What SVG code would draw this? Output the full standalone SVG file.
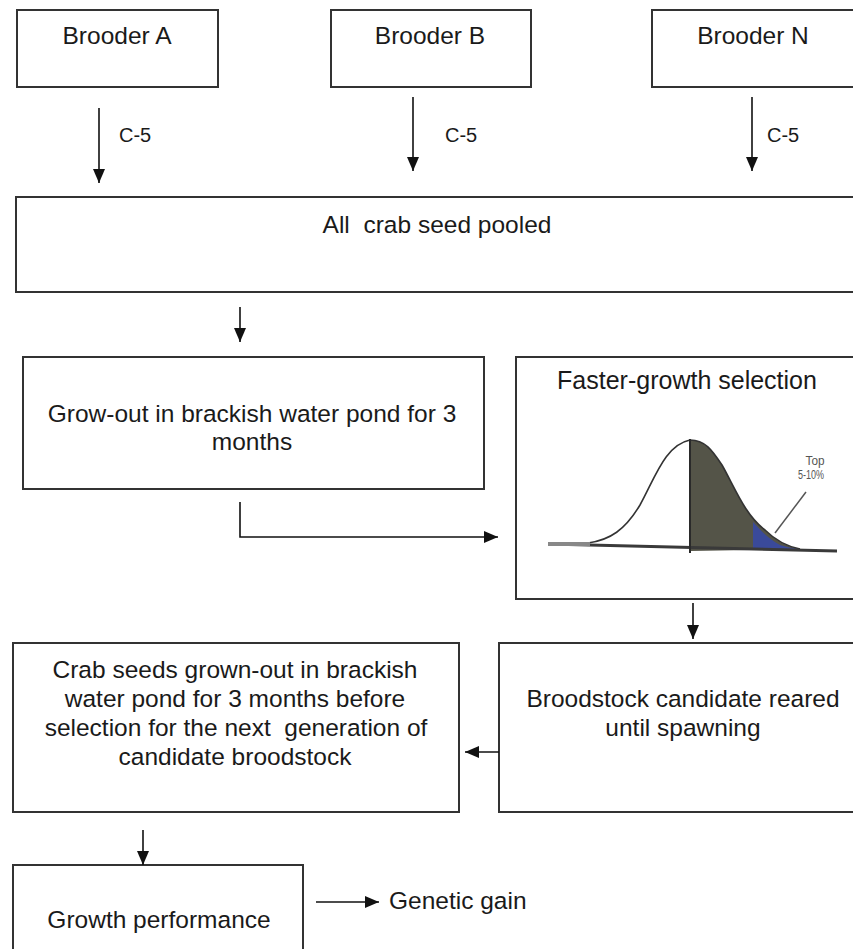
<svg xmlns="http://www.w3.org/2000/svg" width="853" height="949" viewBox="0 0 853 949">
<defs>
<style>
.box{fill:#fff;stroke:#333;stroke-width:2}
.t{font-family:"Liberation Sans",Arial,sans-serif;font-size:24.5px;fill:#1a1a1a;text-anchor:middle}
.lbl{font-family:"Liberation Sans",Arial,sans-serif;font-size:20px;fill:#1a1a1a}
.c{fill:none;stroke:#111;stroke-width:1.6}
</style>
<marker id="ah" viewBox="0 0 14 12" refX="14" refY="6" markerWidth="14" markerHeight="12" markerUnits="userSpaceOnUse" orient="auto">
<path d="M0,0 L14,6 L0,12 z" fill="#111"/>
</marker>
</defs>
<rect width="853" height="949" fill="#fff"/>

<g id="brooderA"><rect class="box" x="17" y="10" width="201" height="77"/><text class="t" x="117" y="44">Brooder A</text></g>
<g id="brooderB"><rect class="box" x="331" y="10" width="200" height="77"/><text class="t" x="430" y="44">Brooder B</text></g>
<g id="brooderN"><rect class="box" x="652" y="10" width="220" height="77"/><text class="t" x="753" y="44">Brooder N</text></g>

<g id="pooled"><rect class="box" x="16" y="197" width="860" height="95"/><text class="t" x="437" y="233" xml:space="preserve">All  crab seed pooled</text></g>

<g id="growout"><rect class="box" x="23" y="357" width="461" height="132"/>
<text class="t" x="252" y="422">Grow-out in brackish water pond for 3</text>
<text class="t" x="252" y="450">months</text></g>

<g id="selection"><rect class="box" x="516" y="357" width="360" height="242"/>
<text class="t" style="font-size:25px" x="687" y="389">Faster-growth selection</text>
<path d="M690,440 C705,440 712,450 722,465 C735,488 745,515 765,530 C775,540 785,546 800,549 L690,551 Z" fill="#545448"/>
<path d="M753,522 C760,530 770,540 780,545 C786,547 792,548 800,549 L753,550 Z" fill="#3a4a9a"/>
<path d="M588,543 C610,540 625,530 640,505 C655,478 665,445 690,440 C705,440 712,450 722,465 C735,488 745,515 765,530 C775,540 785,546 800,549" fill="none" stroke="#333" stroke-width="1.6"/>
<path d="M548,544 L837,551" stroke="#3a3a3a" stroke-width="3" fill="none"/>
<path d="M548,544 L590,544" stroke="#888" stroke-width="4" fill="none"/>
<path d="M690,439 L690,553" stroke="#2a2a2a" stroke-width="2" fill="none"/>
<path d="M806,492 L775,533" stroke="#555" stroke-width="1.5" fill="none"/>
<text x="815" y="465" style="font-family:'Liberation Sans',Arial,sans-serif;font-size:12px;fill:#555;text-anchor:middle" textLength="19" lengthAdjust="spacingAndGlyphs">Top</text>
<text x="811" y="479" style="font-family:'Liberation Sans',Arial,sans-serif;font-size:12px;fill:#555;text-anchor:middle" textLength="26" lengthAdjust="spacingAndGlyphs">5-10%</text>
</g>

<g id="broodstock"><rect class="box" x="499" y="643" width="377" height="169"/>
<text class="t" x="683" y="707">Broodstock candidate reared</text>
<text class="t" x="683" y="736">until spawning</text></g>

<g id="crabseeds"><rect class="box" x="13" y="643" width="446" height="169"/>
<text class="t" x="235" y="678">Crab seeds grown-out in brackish</text>
<text class="t" x="235" y="707">water pond for 3 months before</text>
<text class="t" x="236" y="736" xml:space="preserve">selection for the next  generation of</text>
<text class="t" x="235" y="765">candidate broodstock</text></g>

<g id="growth"><rect class="box" x="13" y="865" width="290" height="100"/>
<text class="t" x="159" y="928">Growth performance</text></g>

<g id="gain"><text class="t" style="text-anchor:start" x="389" y="909">Genetic gain</text></g>

<g id="connectors">
<line class="c" x1="99" y1="108" x2="99" y2="183" marker-end="url(#ah)"/>
<line class="c" x1="413" y1="97" x2="413" y2="171" marker-end="url(#ah)"/>
<line class="c" x1="752" y1="97" x2="752" y2="171" marker-end="url(#ah)"/>
<text class="lbl" x="119" y="142">C-5</text>
<text class="lbl" x="445" y="142">C-5</text>
<text class="lbl" x="767" y="142">C-5</text>
<line class="c" x1="240" y1="307" x2="240" y2="342" marker-end="url(#ah)"/>
<polyline class="c" points="240,502 240,537 498,537" marker-end="url(#ah)"/>
<line class="c" x1="693" y1="603" x2="693" y2="639" marker-end="url(#ah)"/>
<line class="c" x1="499" y1="752" x2="465" y2="752" marker-end="url(#ah)"/>
<line class="c" x1="143" y1="830" x2="143" y2="865" marker-end="url(#ah)"/>
<line class="c" x1="316" y1="902" x2="379" y2="902" marker-end="url(#ah)"/>
</g>
</svg>
